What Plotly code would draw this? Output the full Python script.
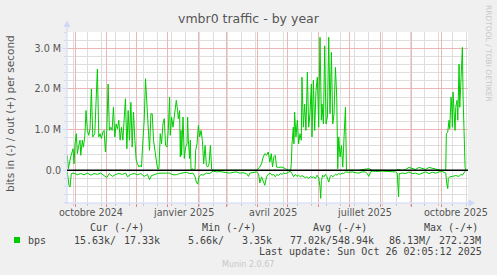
import plotly.graph_objects as go
import pandas as pd

# ---------------- data ----------------
START = pd.Timestamp("2024-09-22 17:00")
END = pd.Timestamp("2025-10-27 14:40")

out_days = [0.3, 1.3, 3.7, 6, 7, 8, 9.3, 10.3, 11.7, 13, 13.7, 15.3, 16.3, 17.7, 19, 20.3, 21.7, 23, 24.3, 25.7,
            27.7, 29, 30.3, 31.7, 33, 34.3, 35.7, 37, 38.3, 39.7, 41, 42.3, 43.7, 45, 46.3, 47.7, 49, 50.3, 51.7, 53,
            54.3, 55.7, 57, 58.3, 59.7, 61, 62.3, 63.7, 65, 66.3, 67.7, 69, 70.3, 71.7, 73, 74.3, 75.7, 77, 78.3, 79.7,
            81, 82.3, 83.7, 85, 86.3, 87.7, 89, 90.3, 91.7, 93, 94.3, 95.7, 97, 98.3, 99.7,
            101, 102.3, 103, 104.3, 105.7, 107, 108.3, 109, 110.3, 111, 112.3, 113, 113.7, 114.3, 115.7, 117, 118.3,
            119.7, 120.3, 121, 122.3, 123, 123.7, 125, 126.3, 127.7, 128.3, 129.7, 131, 132.3, 133.7, 135, 136.3,
            137.7, 139, 140.3, 141.7, 143, 144.3, 145.7, 152.3, 160, 165.7, 172, 179, 185, 189, 192.3, 194, 195.7,
            197.3, 199, 200.7,
            202.3, 203.7, 205, 206.3, 207.7, 209, 211, 214.3, 217.7, 221, 223, 223.7, 224.3, 225.7, 226.3, 227, 228.3,
            229.7, 231, 232.3, 233.7, 234.3, 235.7, 237, 238.3, 239.7, 241, 242.3, 243.7, 244.3, 245.7, 247, 248.3,
            249.7, 251, 252.3, 253.7, 254.3, 255.7, 257, 258.3, 259.7, 261, 262.3, 263.7, 265, 266.3, 267.7, 269, 270,
            271, 272.3, 273.7, 275, 276.3, 277.7, 278.7, 290, 301, 304.3, 327.7, 330.3, 334.3, 337.7, 341, 344.3,
            347.7, 351, 354.3, 357.7, 361, 364.3, 367.7, 372.7, 377.7, 378.3, 379.7, 381, 381.7, 383, 383.7, 384.3,
            385, 386.3, 387, 387.7, 389, 389.7, 390.3, 391, 391.7, 392.3, 393, 393.7, 394.3, 395, 395.7, 396.3, 397,
            397.7]
out_mbps = [0.37, 0.04, 0.33, 0.53, 0.16, 0.65, 0.90, 0.41, 0.61, 0.74, 0.37, 0.74, 0.57, 0.82, 1.47, 0.98, 0.86,
            1.02, 2.00, 0.82, 0.90, 1.55, 2.49, 0.82, 0.90, 0.78, 0.94, 0.98, 0.45, 0.98, 2.12, 0.98, 1.06, 0.98,
            1.55, 0.82, 1.14, 1.02, 1.23, 0.74, 1.06, 0.74, 1.14, 1.76, 0.53, 1.47, 0.74, 1.67, 0.57, 1.43, 0.74,
            0.25, 0.16, 0.08, 0.12, 0.08, 0.74, 1.23, 2.25, 1.63, 0.98, 0.49, 1.39, 1.39, 0.74, 0.41, 0.25, 0.04,
            0.04, 0.90, 0.65, 1.14, 1.27, 0.61, 0.57,
            0.98, 1.80, 0.86, 1.31, 1.06, 1.31, 1.55, 1.72, 1.47, 1.27, 1.47, 0.33, 0.98, 0.37, 1.31, 0.29, 0.57,
            0.65, 1.31, 0.74, 0.29, 0.74, 0.0, 0.04, 0.0, 0.02, 0.49, 0.65, 1.10, 0.82, 0.98, 0.74, 0.16, 0.61,
            0.12, 0.08, 0.16, 0.61, 0.02, 0.0, 0.0, 0.0, 0.0, 0.0, 0.0, 0.0, 0.0, 0.08, 0.16, 0.33, 0.41, 0.37, 0.45,
            0.20, 0.41, 0.08, 0.33, 0.37, 0.08, 0.07, 0.08, 0.04, 0.0, 0.0, 0.16, 0.61, 1.06, 0.65, 1.43, 0.82,
            1.23, 0.65, 0.90, 0.74, 2.29, 1.06, 1.63, 0.98, 2.41, 1.06, 1.39, 2.12, 0.82, 2.21, 0.98, 1.96,
            2.29, 1.06, 3.27, 1.23, 1.63, 1.14, 3.06, 1.14, 1.31, 3.27, 1.39, 2.90, 1.14, 1.39, 2.53, 1.80, 0.04,
            0.82, 0.33, 0.61, 0.08, 0.82, 1.55, 0.0, 0.0, 0.04, 0.0, 0.0, 0.02, 0.0, 0.02, 0.07, 0.05,
            0.02, 0.07, 0.05, 0.02, 0.07, 0.05, 0.02, 0.0, 0.0, 0.90, 0.94, 1.23, 1.02, 1.80, 1.55, 1.06,
            1.92, 1.31, 0.98, 1.55, 1.72, 1.23, 1.84, 2.61, 1.55, 1.96, 2.04, 2.61, 3.02, 1.80, 0.98, 0.33, 0.07,
            0.0]

in_days = [0.3, 2, 3, 4.3, 7, 10.3, 13.7, 17, 20.3, 23.7, 27, 30.3, 33.7, 37, 39.7, 42, 45.3, 48.7, 52, 55.3, 58.7,
           60.3, 63.7, 67, 70.3, 73.7, 77, 80.3, 82.3, 84.3, 87, 90.3, 93.7, 97,
           102.3, 105.7, 109, 112.3, 115.7, 119, 122.3, 125.7, 127.7, 129, 130.3, 131.7, 133.7, 135.7, 139, 142.3,
           145.7, 149, 152.3, 155.7, 159, 162.3, 165.7, 169, 172.3, 175.7, 179, 181, 182.3, 185.7, 189, 191, 192.3,
           194, 195.7, 197.3, 199, 200.7,
           202.7, 204.3, 206, 207.7, 209.3, 211, 212.7, 214.3, 216, 217.7, 219.3, 221, 222.7, 224.3, 226, 227.7,
           229.3, 231, 232.7, 234.3, 236, 237.7, 239.3, 241, 242.7, 244.3, 246, 247.7, 249.3, 251, 252.3, 253,
           253.7, 255, 256.3, 257.7, 259.3, 261, 262.3, 263.7, 265, 266.3, 267.7, 269.3, 271, 272.7, 274.3, 276,
           277.7, 281, 284.3, 287.7, 291, 294.3, 297.7, 299.3, 301, 302.7, 304.3, 307.7, 314.3, 321, 327.7, 329.3,
           330, 330.7, 331.3, 332.7, 334.3, 337.7, 341, 344.3, 347.7, 351, 354.3, 357.7, 361, 364.3, 367.7, 371,
           374.3, 377.7, 378.7, 379.7, 380.3, 381.7, 384.3, 387.7, 391, 392.7, 394.3, 395.7, 397, 397.7]
in_mbps = [-0.04, -0.37, -0.41, -0.08, -0.07, -0.11, -0.08, -0.11, -0.07, -0.12, -0.08, -0.10, -0.07, -0.13, -0.18,
           -0.08, -0.15, -0.10, -0.08, -0.10, -0.07, -0.16, -0.10, -0.08, -0.11, -0.08, -0.15, -0.10, -0.23, -0.13,
           -0.10, -0.08, -0.07, -0.07,
           -0.07, -0.11, -0.11, -0.08, -0.07, -0.05, -0.08, -0.07, -0.16, -0.29, -0.34, -0.16, -0.10, -0.12, -0.07,
           -0.08, -0.02, -0.04, -0.03, -0.04, -0.06, -0.07, -0.05, -0.04, -0.07, -0.06, -0.08, -0.15, -0.07, -0.05,
           -0.04, -0.08, -0.31, -0.16, -0.25, -0.37, -0.16, -0.10,
           -0.07, -0.12, -0.10, -0.16, -0.10, -0.13, -0.08, -0.10, -0.07, -0.08, -0.07, -0.04, -0.02, -0.08, -0.16,
           -0.10, -0.15, -0.12, -0.16, -0.13, -0.15, -0.18, -0.16, -0.20, -0.15, -0.18, -0.16, -0.20, -0.12, -0.18,
           -0.41, -0.69, -0.25, -0.12, -0.16, -0.10, -0.16, -0.29, -0.16, -0.12, -0.16, -0.12, -0.10, -0.12, -0.08,
           -0.10, -0.07, -0.08, -0.04, -0.05, -0.04, -0.06, -0.07, -0.04, -0.04, -0.08, -0.15, -0.04, -0.02, -0.03,
           -0.02, -0.03, -0.04, -0.07, -0.49, -0.65, -0.08, -0.07, -0.07, -0.08, -0.04, -0.08, -0.07, -0.10, -0.07,
           -0.04, -0.08, -0.05, -0.07, -0.04, -0.03, -0.07, -0.33, -0.45, -0.20, -0.16, -0.15, -0.13, -0.15, -0.10,
           -0.12, -0.07, 0.0, 0.0]

y_tick_vals = [0, 1e6, 2e6, 3e6]
y_tick_text = ["0.0", "1.0 M", "2.0 M", "3.0 M"]
x_label_dates = ["2024-10-16 12:00", "2025-01-16 12:00", "2025-04-16 00:00", "2025-07-16 12:00", "2025-10-16 00:00"]
x_label_text = ["octobre 2024", "janvier 2025", "avril 2025", "juillet 2025", "octobre 2025"]

legend_headers = ["Cur (-/+)", "Min (-/+)", "Avg (-/+)", "Max (-/+)"]
legend_in = ["15.63k/", "5.66k/", "77.02k/", "86.13M/"]
legend_out = ["17.33k", "3.35k", "548.94k", "272.23M"]
series_name = "bps"
last_update = "Last update: Sun Oct 26 02:05:12 2025"
title_text = "vmbr0 traffic - by year"
y_title = "bits in (-) / out (+) per second"

# ---------------- layout geometry (pixels) ----------------
W, H = 497, 275
L, R, T, B = 67, 468, 32, 203
PW, PH = R - L, B - T


def px(x):
    return (x - L) / PW


def py(y):
    return (B - y) / PH


GREEN = "#00CC00"
AXIS = "#CFD6F8"
TXT = "#555555"
FONT = "DejaVu Sans"
MONO = "DejaVu Sans Mono"
MAJ = "#ECB6B6"
MIN = "#DEDEDE"

out_x = [START + pd.Timedelta(days=d) for d in out_days]
in_x = [START + pd.Timedelta(days=d) for d in in_days]

fig = go.Figure()
# helper trace so that the monthly grid axis (x2) exists
fig.add_trace(go.Scatter(x=[START, END], y=[None, None], xaxis="x2", yaxis="y", mode="lines",
                         showlegend=False, hoverinfo="skip"))
fig.add_trace(go.Scatter(x=in_x, y=[v * 1e6 for v in in_mbps], mode="lines",
                         line=dict(color=GREEN, width=1), showlegend=False, hoverinfo="skip"))
fig.add_trace(go.Scatter(x=out_x, y=[v * 1e6 for v in out_mbps], mode="lines",
                         line=dict(color=GREEN, width=1), showlegend=False, hoverinfo="skip"))

annotations = []


def ann(text, x, y, xanchor="left", size=10, family=MONO, color="#444444", **kw):
    d = dict(text=text, x=x, y=y, xref=kw.pop("xref", "paper"), yref=kw.pop("yref", "paper"),
             xanchor=xanchor, yanchor="middle", showarrow=False, borderpad=0,
             font=dict(family=family, size=size, color=color))
    d.update(kw)
    annotations.append(d)


ann(title_text, px(248.5), py(18.5), xanchor="center", size=12.5, family=FONT, color=TXT)
ann(y_title, px(10), py(114), xanchor="center", size=10.5, family=FONT, color=TXT, textangle=-90)
ann("RRDTOOL / TOBI OETIKER", px(488.5), py(53.5), xanchor="center", size=7.5, family=FONT,
    color="#C8C8C8", textangle=90)
for d, t in zip(x_label_dates, x_label_text):
    ann(t, d, py(212.5), xanchor="center", size=9.6, family=FONT, color=TXT, xref="x")

head_x = [89.3, 201, 311.7, 422.7]
in_x_px = [72.7, 186.7, 289.3, 388.3]
out_x_px = [122.7, 240.5, 330.5, 437.5]
for h, hx in zip(legend_headers, head_x):
    ann(h, px(hx), py(227))
for a, ax_ in zip(legend_in, in_x_px):
    ann(a, px(ax_), py(240))
for b, bx in zip(legend_out, out_x_px):
    ann(b, px(bx), py(240))
ann(series_name, px(26.7), py(240))
ann(last_update, px(483), py(251.7), xanchor="right")
ann("Munin 2.0.67", px(248), py(264), xanchor="center", size=8, family=FONT, color="#C8C8C8")

shapes = [
    dict(type="line", xref="paper", yref="paper", x0=0, x1=0, y0=py(204), y1=py(25),
         line=dict(color=AXIS, width=1), layer="above"),
    dict(type="line", xref="paper", yref="paper", x0=px(66), x1=px(470), y0=0, y1=0,
         line=dict(color=AXIS, width=1), layer="above"),
    dict(type="path", xref="paper", yref="paper",
         path=f"M {px(63.5)},{py(27)} L {px(70.5)},{py(27)} L {px(67)},{py(20.5)} Z",
         fillcolor=AXIS, line=dict(color=AXIS, width=0), layer="above"),
    dict(type="path", xref="paper", yref="paper",
         path=f"M {px(468.5)},{py(199.5)} L {px(468.5)},{py(206.5)} L {px(475)},{py(203)} Z",
         fillcolor=AXIS, line=dict(color=AXIS, width=0), layer="above"),
    dict(type="line", xref="paper", yref="y", x0=0, x1=1, y0=0, y1=0,
         line=dict(color="#000000", width=1.6), layer="above"),
    dict(type="rect", xref="paper", yref="paper", x0=px(14), x1=px(20), y0=py(243), y1=py(237),
         fillcolor=GREEN, line=dict(width=0), layer="above"),
]

fig.update_layout(
    width=W, height=H,
    margin=dict(l=L, r=W - R, t=T, b=H - B, pad=0),
    paper_bgcolor="#F0F0F0", plot_bgcolor="#FFFFFF",
    showlegend=False,
    annotations=annotations,
    shapes=shapes,
    xaxis=dict(
        type="date", range=[START, END], showticklabels=False,
        tickmode="linear", tick0="2024-10-13", dtick=14 * 86400000,
        showgrid=True, gridcolor=MIN, gridwidth=1,
        ticks="outside", ticklen=2, tickcolor="#C8C8C8",
        showline=False, zeroline=False, fixedrange=True,
    ),
    xaxis2=dict(
        type="date", range=[START, END], overlaying="x", anchor="y", side="bottom",
        showticklabels=False, tickmode="linear", tick0="2024-10-01", dtick="M1",
        showgrid=True, gridcolor=MAJ, gridwidth=1,
        ticks="outside", ticklen=3, tickcolor="#E08888",
        showline=False, zeroline=False, fixedrange=True,
    ),
    yaxis=dict(
        range=[-0.804e6, 3.40e6], tickmode="array", tickvals=y_tick_vals, ticktext=y_tick_text,
        showgrid=True, gridcolor=MAJ, gridwidth=1,
        ticks="outside", ticklen=3, tickcolor=AXIS,
        tickfont=dict(family=FONT, size=9.6, color=TXT),
        minor=dict(tick0=0, dtick=0.2e6, showgrid=True, gridcolor=MIN,
                   ticks="outside", ticklen=2, tickcolor=AXIS),
        showline=False, zeroline=False, fixedrange=True,
    ),
)

fig.write_html("out.html")
